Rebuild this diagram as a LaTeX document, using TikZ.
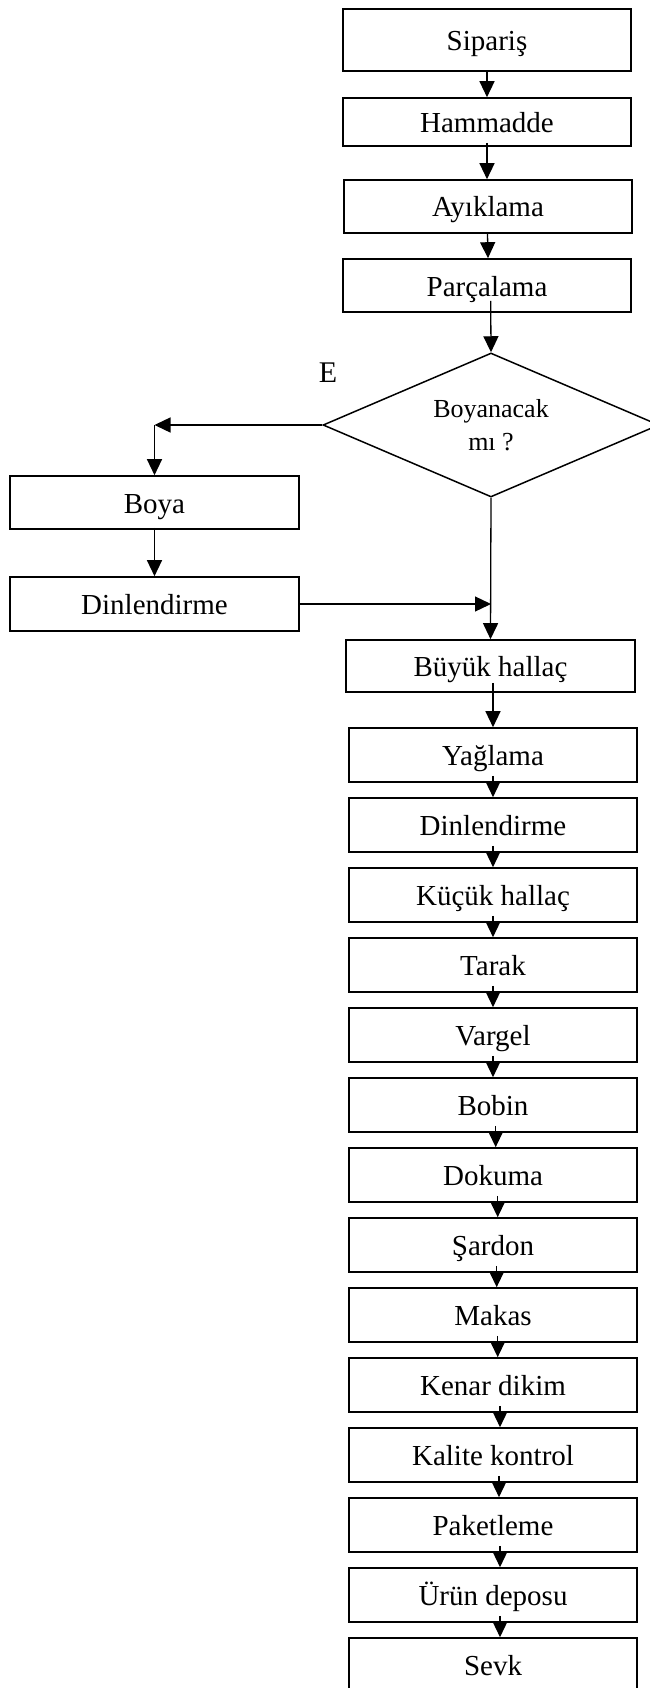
\documentclass[tikz,border=0pt]{standalone}
\usepackage{fontspec}
\setmainfont{Liberation Serif}
\usetikzlibrary{shapes.geometric,arrows.meta}

\begin{document}
\begin{tikzpicture}[x=1pt, y=-1pt,
  box/.style={draw, line width=1.6pt, minimum width=288pt, inner sep=0pt, text height=22pt, text depth=1pt,
              font=\fontsize{29}{34}\selectfont},
  flow/.style={-{Triangle[width=15pt,length=16pt]}, line width=1.3pt}]
  % Fix the page size
  \useasboundingbox (0,0) rectangle (650,1688);

  % Draw the top boxes
  \node[box, minimum height=62pt] (sip) at (487,40) {Sipariş};
  \node[box, minimum height=48pt] (ham) at (487,122) {Hammadde};
  \node[box, minimum height=53pt] (ayk) at (488,206.5) {Ayıklama};
  \node[box, minimum height=53pt] (prc) at (487,285.5) {Parçalama};

  % Draw the decision and its label
  \node[draw, diamond, line width=1.5pt, minimum width=336pt, minimum height=144pt, aspect=2.33,
        inner sep=0pt, align=center, font=\fontsize{26}{33}\selectfont] (boy) at (491,425) {Boyanacak\\mı ?};
  \node[font=\fontsize{30}{36}\selectfont] (evt) at (328,373) {E};

  % Draw the dyeing branch
  \node[box, minimum width=289pt, minimum height=53pt] (bya) at (154.5,502.5) {Boya};
  \node[box, minimum width=289pt, minimum height=54pt] (dnl) at (154.5,604) {Dinlendirme};
  \coordinate (crn) at (bya.north |- boy.west);

  % Draw the main line
  \node[box, minimum width=289pt, minimum height=52pt] (bhl) at (490.5,666) {Büyük hallaç};
  \foreach \name/\txt [count=\i from 0] in {yag/Yağlama, dn2/Dinlendirme, khl/Küçük hallaç, trk/Tarak,
      vrg/Vargel, bbn/Bobin, dkm/Dokuma, srd/Şardon, mks/Makas, knr/Kenar dikim,
      klt/Kalite kontrol, pkt/Paketleme, urn/Ürün deposu, svk/Sevk}
    \node[box, minimum height=54pt] (\name) at (493,755+70*\i) {\txt};

  % Arrows of the top part
  \draw[flow] (sip.south) -- (ham.north);
  \draw[flow] ([yshift=4pt]ham.south) -- ([xshift=-1pt]ayk.north);
  \draw[flow] ([xshift=-0.5pt]ayk.south) -- (prc.north -| ayk.south);
  \draw[flow] ([xshift=3.7pt, yshift=12pt]prc.south) -- (boy.north);

  % Arrows of the branch
  \draw[flow] (boy.west) -- (crn);
  \draw[flow] (crn) -- (bya.north);
  \draw[flow] ([yshift=2pt]bya.south) -- (dnl.north);
  \draw[flow] (dnl.east) -- (dnl.east -| boy.south);
  \draw[flow] (boy.south) -- (bhl.north);
  \draw[flow] ([xshift=2.5pt, yshift=10pt]bhl.south) -- (yag.north);

  % Arrows of the main line
  \foreach \a/\b/\dx in {yag/dn2/0, dn2/khl/0, khl/trk/0, trk/vrg/0, vrg/bbn/0, bbn/dkm/2.7,
      dkm/srd/4.7, srd/mks/3.7, mks/knr/4.7, knr/klt/7, klt/pkt/6, pkt/urn/7, urn/svk/7}
    \draw[flow] ([xshift=\dx pt, yshift=7pt]\a.south) -- ([xshift=\dx pt]\b.north);
\end{tikzpicture}
\end{document}
